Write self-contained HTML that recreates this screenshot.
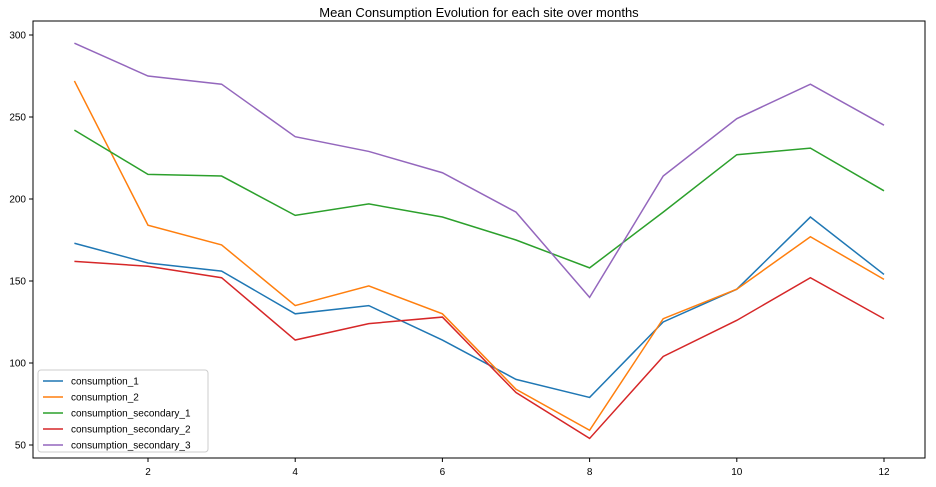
<!DOCTYPE html>
<html><head><meta charset="utf-8">
<style>
body{margin:0;background:#fff;font-family:"Liberation Sans","DejaVu Sans",sans-serif;}
svg text{font-family:"Liberation Sans","DejaVu Sans",sans-serif;}
</style></head>
<body>
<svg id="chart" width="936" height="482" xmlns="http://www.w3.org/2000/svg">
<text x="479" y="17" text-anchor="middle" font-size="13">Mean Consumption Evolution for each site over months</text>
<g id="grid"></g>
<g id="lines"></g>
<rect x="33" y="21" width="892" height="437" fill="none" stroke="#000" stroke-width="1"/>
<g id="legend"></g>
</svg>
<script>
const months=[1,2,3,4,5,6,7,8,9,10,11,12];
const seriesNames=["consumption_1","consumption_2","consumption_secondary_1","consumption_secondary_2","consumption_secondary_3"];
const consumption1=[173,161,156,130,135,114,90,79,125,145,189,154];
const consumption2=[272,184,172,135,147,130,84,59,127,145,177,151];
const consumptionSecondary1=[242,215,214,190,197,189,175,158,192,227,231,205];
const consumptionSecondary2=[162,159,152,114,124,128,82,54,104,126,152,127];
const consumptionSecondary3=[295,275,270,238,229,216,192,140,214,249,270,245];
const xTicks=[2,4,6,8,10,12];
const yTicks=[50,100,150,200,250,300];
const colors=["#1f77b4","#ff7f0e","#2ca02c","#d62728","#9467bd"];
const allSeries=[consumption1,consumption2,consumptionSecondary1,consumptionSecondary2,consumptionSecondary3];
const NS="http://www.w3.org/2000/svg";
function xs(v){return 74.4+(v-1)*73.6;}
function ys(v){return 445-(v-50)*1.64;}
const svg=document.getElementById('chart');
const grid=document.getElementById('grid');
function mk(tag,attrs,parent){const e=document.createElementNS(NS,tag);for(const k in attrs)e.setAttribute(k,attrs[k]);parent.appendChild(e);return e;}
xTicks.forEach(t=>{
  const l=mk('line',{x1:xs(t),x2:xs(t),y1:458,y2:462,stroke:'#000'},grid);
  
  
  const tx=mk('text',{x:xs(t),y:475,'text-anchor':'middle','font-size':'10'},grid);
  tx.textContent=t;
  
  
});
yTicks.forEach(t=>{
  const l=mk('line',{x1:29,x2:33,y1:ys(t),y2:ys(t),stroke:'#000'},grid);
  
  
  const tx=mk('text',{x:26,y:ys(t)+3.5,'text-anchor':'end','font-size':'10'},grid);
  tx.textContent=t;
  
  
});
const lines=document.getElementById('lines');
allSeries.forEach((s,i)=>{
  const p=mk('polyline',{points:s.map((v,j)=>xs(months[j])+','+ys(v)).join(' '),fill:'none',stroke:colors[i],'stroke-width':1.5},lines);
  
  
});
const lg=document.getElementById('legend');
const box=mk('rect',{x:38,y:370,width:170,height:82,fill:'#fff',stroke:'#ccc',rx:3},lg);


seriesNames.forEach((n,i)=>{
  const y=381+i*16;
  const l=mk('line',{x1:43,x2:63,y1:y,y2:y,stroke:colors[i],'stroke-width':1.5},lg);
  
  
  const t=mk('text',{x:71,y:y+3.5,'font-size':'10'},lg);
  t.textContent=n;
  
  
});
</script>
</body></html>
